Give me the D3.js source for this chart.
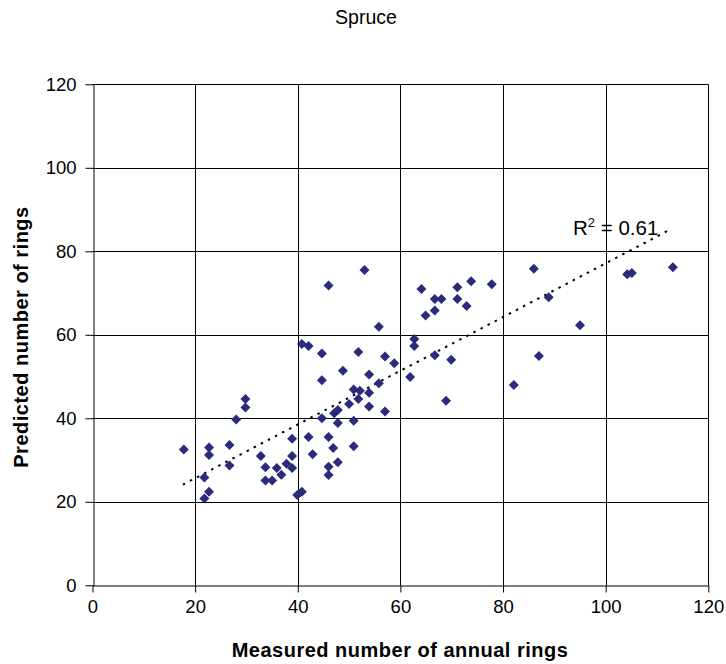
<!DOCTYPE html>
<html><head><meta charset="utf-8">
<script src="https://cdn.jsdelivr.net/npm/d3@7"></script>
<style>body{margin:0;background:#fff;} svg{display:block;font-family:"Liberation Sans",Arial,sans-serif;}</style>
</head><body>
<svg id="chart" width="726" height="664"></svg>
<script>
const measured = [17.8,21.8,21.8,22.7,22.7,22.7,26.7,26.7,28.0,29.8,29.8,32.8,33.7,33.7,35.0,35.9,36.8,37.8,38.9,38.9,38.9,39.9,40.8,40.8,42.1,42.1,42.9,44.7,44.7,44.7,46.0,46.0,46.0,46.0,46.9,47.1,47.8,47.8,47.8,48.8,50.0,50.9,50.9,50.9,51.8,51.8,52.1,53.0,53.9,53.9,53.9,55.8,55.8,57.0,57.0,58.8,61.9,62.7,62.7,64.1,64.9,66.7,66.7,66.7,68.0,68.9,69.9,71.1,71.1,72.9,73.8,77.8,82.1,86.0,87.0,88.9,95.0,104.2,105.1,113.1];
const predicted = [32.5,25.8,20.8,22.4,33.0,31.2,33.6,28.7,39.7,44.6,42.6,31.0,28.3,25.1,25.1,28.1,26.5,29.1,28.1,35.1,31.0,21.6,22.4,57.8,57.3,35.5,31.4,55.5,49.1,40.0,71.8,35.5,28.4,26.4,32.9,41.2,42.0,38.9,29.5,51.4,43.4,39.4,46.9,33.3,55.9,44.6,46.6,75.5,46.1,50.5,42.8,48.4,61.9,54.8,41.6,53.2,49.9,59.0,57.3,71.0,64.6,65.8,55.1,68.6,68.6,44.2,54.0,71.4,68.6,66.9,72.8,72.1,48.0,75.8,54.9,69.0,62.3,74.5,74.8,76.2];
const trendX = [17.6, 112.4];
const trendY = [24.1, 85.1];
const xTicks = [0,20,40,60,80,100,120];
const yTicks = [0,20,40,60,80,100,120];
const title = "Spruce";
const xTitle = "Measured number of annual rings";
const yTitle = "Predicted number of rings";
const r2Label = "0.61";

const svg = d3.select("#chart");
const L = 92.5, R = 708.3, T = 84.3, B = 585.3;
const x = d3.scaleLinear().domain([0,120]).range([L,R]);
const y = d3.scaleLinear().domain([0,120]).range([B,T]);

// gridlines
svg.append("g").selectAll("line").data(xTicks.slice(1)).join("line")
  .attr("x1",d=>Math.round(x(d))+0.5).attr("x2",d=>Math.round(x(d))+0.5)
  .attr("y1",T).attr("y2",B).attr("stroke","#000").attr("stroke-width",1);
svg.append("g").selectAll("line").data(yTicks.slice(1)).join("line")
  .attr("y1",d=>Math.round(y(d))+0.5).attr("y2",d=>Math.round(y(d))+0.5)
  .attr("x1",L).attr("x2",R).attr("stroke","#000").attr("stroke-width",1);

// axes
const xAxis = d3.axisBottom(x).tickValues(xTicks).tickSize(7).tickPadding(7).tickSizeOuter(0);
const gx = svg.append("g").attr("transform",`translate(0,${Math.round(B)+0.5})`).call(xAxis);
const yAxis = d3.axisLeft(y).tickValues(yTicks).tickSize(8).tickPadding(9).tickSizeOuter(0);
const gy = svg.append("g").attr("transform",`translate(${Math.round(L)+0.5},0)`).call(yAxis);
[gx,gy].forEach(g=>{
  g.selectAll("text").attr("font-size",18.5).attr("fill","#000").attr("font-family","Liberation Sans, Arial, sans-serif");
  g.select(".domain").attr("stroke","#000");
  g.selectAll(".tick line").attr("stroke","#000");
});

// trend line
svg.append("line")
  .attr("x1",x(trendX[0])).attr("y1",y(trendY[0]))
  .attr("x2",x(trendX[1])).attr("y2",y(trendY[1]))
  .attr("stroke","#000").attr("stroke-width",2).attr("stroke-dasharray","2.5,5.5");

// points
svg.append("g").selectAll("path").data(measured.map((m,i)=>[m,predicted[i]])).join("path")
  .attr("transform",d=>`translate(${x(d[0])},${y(d[1])})`)
  .attr("d","M0,-5L5,0L0,5L-5,0Z").attr("fill","#2b2b7b");

// R2 label
const rt = svg.append("text").attr("x",573).attr("y",235).attr("font-size",20.5).attr("fill","#000");
rt.append("tspan").text("R");
rt.append("tspan").attr("dy",-8).attr("font-size",13).text("2");
rt.append("tspan").attr("dy",8).text(" = " + r2Label);

// titles
svg.append("text").attr("x",366).attr("y",24).attr("text-anchor","middle").attr("font-size",19.5).text(title);
svg.append("text").attr("x",400).attr("y",657).attr("text-anchor","middle").attr("font-size",20)
  .attr("letter-spacing",0.5).attr("font-weight","bold").text(xTitle);
svg.append("text").attr("transform",`translate(28,337) rotate(-90)`).attr("text-anchor","middle").attr("font-size",20)
  .attr("letter-spacing",0.5).attr("font-weight","bold").text(yTitle);
</script>
</body></html>
